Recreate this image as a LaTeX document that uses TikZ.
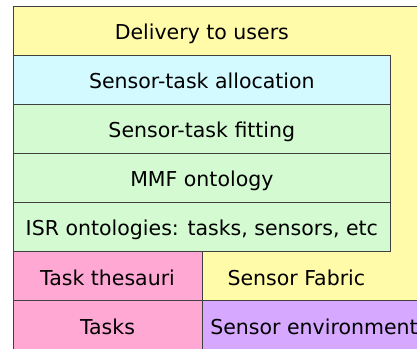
\documentclass[tikz,border=0pt]{standalone}
\usepackage{fontspec}
\setmainfont{DejaVu Sans}
\definecolor{yel}{HTML}{FFFBA8}
\definecolor{cya}{HTML}{D2FAFF}
\definecolor{grn}{HTML}{D4FAD2}
\definecolor{pnk}{HTML}{FFA8D4}
\definecolor{prp}{HTML}{D6A8FF}
\definecolor{edge}{HTML}{404040}
\begin{document}
\begin{tikzpicture}[x=1bp,y=-1bp,
  layer/.style={draw=edge, line width=0.8bp, inner sep=0pt, outer sep=0pt,
    anchor=north west, minimum height=49bp, text height=18bp, text depth=0bp,
    font=\fontsize{20.5bp}{24bp}\selectfont},
  wide/.style={layer, minimum width=377.7bp},
  half/.style={layer, minimum width=189bp}]
\useasboundingbox (0,0) rectangle (417,349);
\clip (0,0) rectangle (417,349);
% big yellow background
\fill[yel] (13,6) rectangle (430,360);
\draw[edge, line width=0.8bp] (13,360) -- (13,6) -- (430,6);
\node[layer, draw=none, minimum width=377.7bp] (deliv) at (13,6) {Delivery to users};
\node[wide, fill=cya] (alloc) at (13,55.3) {Sensor-task allocation};
\node[wide, fill=grn] (fit) at (13,104.3) {Sensor-task fitting};
\node[wide, fill=grn] (mmf) at (13,153.3) {MMF ontology};
\node[wide, fill=grn] (isr) at (13,202.3) {ISR ontologies: tasks, sensors, etc};
\node[half, fill=pnk] (thes) at (13,251.5) {Task thesauri};
\node[layer, draw=none, minimum width=188.7bp] (fabric) at (202,251.5) {Sensor Fabric};
\node[half, fill=pnk, minimum height=55bp, text height=12bp] (tasks) at (13,300.5) {Tasks};
\node[layer, fill=prp, minimum width=224bp, minimum height=55bp, text height=12bp] (env) at (202,300.5) {Sensor environment};
\end{tikzpicture}
\end{document}
